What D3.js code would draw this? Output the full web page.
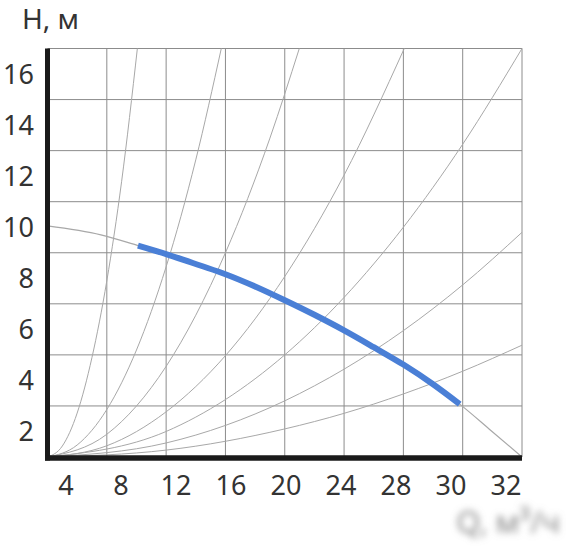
<!DOCTYPE html>
<html>
<head>
<meta charset="utf-8">
<script src="https://cdn.jsdelivr.net/npm/d3@7"></script>
<style>
  body { margin: 0; background: #fff; }
  svg { display: block; font-family: 'Noto Sans', 'Open Sans', sans-serif; }
</style>
</head>
<body>
<div id="chart"></div>
<script>
// Tick labels as printed on the picture
const xLabels = ['4', '8', '12', '16', '20', '24', '28', '30', '32']
const yLabels = [2, 4, 6, 8, 10, 12, 14, 16]

// Grid values (grid runs on its own step, labels sit between)
const xGrid = [4, 8, 12, 16, 20, 24, 28, 32]
const yGrid = [3, 5, 7, 9, 11, 13, 15, 17]

// Pump curve, thin grey part (Q, H)
const pumpCurve = [
  [0, 10.05], [3.6, 9.7], [6.1, 9.28], [8.1, 8.93], [10.3, 8.5], [12, 8.16],
  [14, 7.68], [16, 7.14], [18, 6.57], [20, 5.96], [22, 5.3], [24, 4.62],
  [26, 3.85], [27.8, 3.07], [29.9, 2.04], [32, 1]
]

// Working range of the pump, blue part
const workCurve = [
  [6.1, 9.28], [8.1, 8.93], [10.3, 8.5], [12, 8.16], [14, 7.68], [16, 7.14],
  [18, 6.57], [20, 5.96], [22, 5.3], [24, 4.62], [26, 3.85], [27.8, 3.07]
]

// System curves from the corner
const sys1 = [[0, 1], [1, 1.43], [2, 2.72], [3, 4.9], [4, 7.9], [5, 11.8], [6.06, 17]]
const sys2 = [[0, 1], [2, 1.47], [4, 2.86], [6, 5.19], [8, 8.45], [10, 12.64], [11.72, 17]]
const sys3 = [[0, 1], [4, 1.89], [8, 4.55], [12, 9.0], [15, 13.49], [16.98, 17]]
const sys4 = [[0, 1], [4, 1.44], [8, 2.77], [12, 4.97], [16, 8.07], [20, 12.04], [24.06, 17]]
const sys5 = [[0, 1], [8, 2.0], [16, 5.0], [20, 7.25], [24, 10.0], [28, 13.25], [32, 17]]
const sys6 = [[0, 1], [8, 1.55], [16, 3.2], [20, 4.44], [24, 5.95], [28, 7.74], [32, 9.8]]
const sys7 = [[0, 1], [8, 1.27], [16, 2.1], [20, 2.71], [24, 3.47], [28, 4.36], [32, 5.38]]
const systemCurves = [sys1, sys2, sys3, sys4, sys5, sys6, sys7]

const width = 573
const height = 546

const svg = d3.select('#chart')
  .append('svg')
  .attr('width', width)
  .attr('height', height)

svg.append('rect').attr('width', width).attr('height', height).attr('fill', '#fff')

const defs = svg.append('defs')
defs.append('clipPath').attr('id', 'plot')
  .append('rect').attr('x', 47).attr('y', 48).attr('width', 476).attr('height', 410)
defs.append('filter').attr('id', 'blur')
  .attr('x', '-20%').attr('y', '-50%').attr('width', '140%').attr('height', '200%')
  .append('feGaussianBlur').attr('stdDeviation', 3.5)

const x = d3.scaleLinear().domain([0, 32]).range([47.5, 522])
const y = d3.scaleLinear().domain([1, 17]).range([457, 48.5])
const xLab = d3.scalePoint().domain(xLabels).range([66, 506])

// grid
const grid = svg.append('g').attr('stroke', '#8c8c8c').attr('stroke-width', 1)
grid.selectAll('line.v')
  .data(xGrid)
  .join('line')
  .attr('class', 'v')
  .attr('x1', d => x(d)).attr('x2', d => x(d))
  .attr('y1', y(17)).attr('y2', y(1))
grid.selectAll('line.h')
  .data(yGrid)
  .join('line')
  .attr('class', 'h')
  .attr('x1', x(0)).attr('x2', x(32))
  .attr('y1', d => y(d)).attr('y2', d => y(d))

const line = d3.line()
  .x(d => x(d[0]))
  .y(d => y(d[1]))
  .curve(d3.curveMonotoneX)

const curves = svg.append('g').attr('clip-path', 'url(#plot)')

curves.selectAll('path.sys')
  .data(systemCurves)
  .join('path')
  .attr('class', 'sys')
  .attr('d', line)
  .attr('fill', 'none')
  .attr('stroke', '#a8a8a8')
  .attr('stroke-width', 1)

curves.append('path')
  .attr('d', line(pumpCurve))
  .attr('fill', 'none')
  .attr('stroke', '#a8a8a8')
  .attr('stroke-width', 1.2)

curves.append('path')
  .attr('d', line(workCurve))
  .attr('fill', 'none')
  .attr('stroke', '#4a7fd6')
  .attr('stroke-width', 6)

// axes (thick black)
svg.append('line')
  .attr('x1', x(0)).attr('x2', x(0))
  .attr('y1', y(17)).attr('y2', 460.5)
  .attr('stroke', '#1a1a1a').attr('stroke-width', 5)
svg.append('line')
  .attr('x1', 45).attr('x2', x(32))
  .attr('y1', 458).attr('y2', 458)
  .attr('stroke', '#1a1a1a').attr('stroke-width', 5.5)

// tick labels
svg.append('g')
  .selectAll('text')
  .data(yLabels)
  .join('text')
  .attr('x', 34)
  .attr('y', d => y(d))
  .attr('dy', '0.36em')
  .attr('text-anchor', 'end')
  .attr('font-size', 27)
  .attr('fill', '#333')
  .text(d => d)

svg.append('g')
  .selectAll('text')
  .data(xLabels)
  .join('text')
  .attr('x', d => xLab(d))
  .attr('y', 495)
  .attr('text-anchor', 'middle')
  .attr('font-size', 27)
  .attr('fill', '#333')
  .text(d => d)

// axis titles
svg.append('text')
  .attr('x', 22)
  .attr('y', 29)
  .attr('font-size', 28)
  .attr('fill', '#333')
  .text('Н, м')

svg.append('text')
  .attr('x', 560)
  .attr('y', 533)
  .attr('text-anchor', 'end')
  .attr('font-size', 31)
  .attr('fill', '#8a8a8a')
  .attr('filter', 'url(#blur)')
  .text('Q, м³/ч')
</script>
</body>
</html>
